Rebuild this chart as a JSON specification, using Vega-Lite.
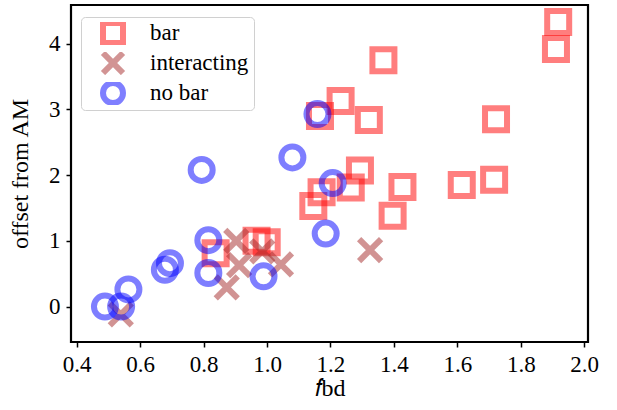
{
  "$schema": "https://vega.github.io/schema/vega-lite/v6.json",
  "width": 517,
  "height": 337,
  "autosize": {"type": "none"},
  "padding": {"left": 71, "top": 5, "right": 29, "bottom": 68},
  "config": {
    "font": "Liberation Serif",
    "view": {"stroke": "black", "strokeWidth": 2.2},
    "legend": {"labelFont": "Liberation Serif", "titleFont": "Liberation Serif"},
    "axis": {
      "domain": false,
      "grid": false,
      "tickColor": "black",
      "tickWidth": 1.5,
      "tickSize": 5,
      "labelFont": "Liberation Serif",
      "labelFontSize": 23,
      "labelColor": "black",
      "titleFont": "Liberation Serif",
      "titleFontSize": 24,
      "titleFontWeight": "normal",
      "titleColor": "black"
    }
  },
  "data": {
    "values": [
      {"f": 1.918, "offset": 4.33, "type": "bar"},
      {"f": 1.911, "offset": 3.92, "type": "bar"},
      {"f": 1.367, "offset": 3.75, "type": "bar"},
      {"f": 1.232, "offset": 3.13, "type": "bar"},
      {"f": 1.321, "offset": 2.84, "type": "bar"},
      {"f": 1.722, "offset": 2.85, "type": "bar"},
      {"f": 1.167, "offset": 2.90, "type": "bar"},
      {"f": 1.293, "offset": 2.07, "type": "bar"},
      {"f": 1.427, "offset": 1.82, "type": "bar"},
      {"f": 1.614, "offset": 1.85, "type": "bar"},
      {"f": 1.716, "offset": 1.93, "type": "bar"},
      {"f": 1.264, "offset": 1.81, "type": "bar"},
      {"f": 1.172, "offset": 1.74, "type": "bar"},
      {"f": 1.146, "offset": 1.53, "type": "bar"},
      {"f": 1.396, "offset": 1.38, "type": "bar"},
      {"f": 0.838, "offset": 0.81, "type": "bar"},
      {"f": 0.967, "offset": 1.00, "type": "bar"},
      {"f": 0.999, "offset": 0.98, "type": "bar"},
      {"f": 0.539, "offset": -0.12, "type": "interacting"},
      {"f": 0.873, "offset": 0.29, "type": "interacting"},
      {"f": 0.903, "offset": 1.00, "type": "interacting"},
      {"f": 0.912, "offset": 0.63, "type": "interacting"},
      {"f": 0.985, "offset": 0.84, "type": "interacting"},
      {"f": 1.044, "offset": 0.64, "type": "interacting"},
      {"f": 1.325, "offset": 0.86, "type": "interacting"},
      {"f": 0.489, "offset": 0.00, "type": "no bar"},
      {"f": 0.540, "offset": 0.00, "type": "no bar"},
      {"f": 0.563, "offset": 0.26, "type": "no bar"},
      {"f": 0.678, "offset": 0.56, "type": "no bar"},
      {"f": 0.694, "offset": 0.66, "type": "no bar"},
      {"f": 0.794, "offset": 2.08, "type": "no bar"},
      {"f": 0.815, "offset": 1.01, "type": "no bar"},
      {"f": 0.815, "offset": 0.51, "type": "no bar"},
      {"f": 0.989, "offset": 0.46, "type": "no bar"},
      {"f": 1.080, "offset": 2.27, "type": "no bar"},
      {"f": 1.207, "offset": 1.88, "type": "no bar"},
      {"f": 1.185, "offset": 1.11, "type": "no bar"},
      {"f": 1.159, "offset": 2.93, "type": "no bar"}
    ]
  },
  "mark": {"type": "point", "filled": false, "opacity": 0.5, "strokeWidth": 6, "size": 484, "clip": true},
  "encoding": {
    "x": {
      "field": "f", "type": "quantitative",
      "scale": {"domain": [0.382, 2.012], "nice": false, "zero": false},
      "axis": {"values": [0.4, 0.6, 0.8, 1.0, 1.2, 1.4, 1.6, 1.8, 2.0], "format": ".1f", "title": "𝑓bd", "titlePadding": 0, "labelPadding": 6}
    },
    "y": {
      "field": "offset", "type": "quantitative",
      "scale": {"domain": [-0.54, 4.59], "nice": false, "zero": false},
      "axis": {"values": [0, 1, 2, 3, 4], "format": "d", "title": "offset from AM", "titlePadding": 16, "labelPadding": 6}
    },
    "color": {
      "field": "type", "type": "nominal",
      "scale": {"domain": ["bar", "interacting", "no bar"], "range": ["#ff0000", "#a52a2a", "#0000ff"]},
      "legend": {
        "title": null,
        "orient": "none",
        "legendX": 10,
        "legendY": 12,
        "fillColor": "white",
        "strokeColor": "#d0d0d0",
        "cornerRadius": 4,
        "padding": 5,
        "symbolSize": 400,
        "symbolStrokeWidth": 6,
        "symbolOpacity": 0.5,
        "symbolOffset": 14,
        "clipHeight": 22,
        "labelFontSize": 23,
        "labelFont": "Liberation Serif",
        "labelColor": "black",
        "labelOffset": 24,
        "rowPadding": 7,
        "symbolFillColor": "transparent"
      }
    },
    "shape": {
      "field": "type", "type": "nominal",
      "scale": {"domain": ["bar", "interacting", "no bar"], "range": ["square", "M-1,-1L1,1M-1,1L1,-1", "circle"]}
    }
  }
}
